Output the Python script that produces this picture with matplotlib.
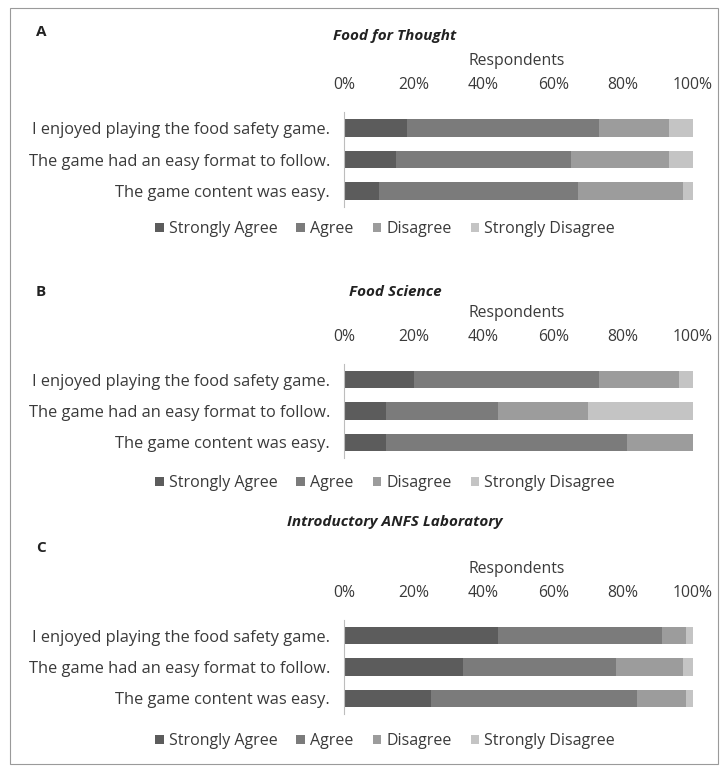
import matplotlib.pyplot as plt
import numpy as np
from matplotlib.patches import Rectangle, Patch

plt.rcParams['font.family'] = ['Open Sans', 'DejaVu Sans']

# Enunciados (de baixo para cima no gráfico)
perguntas = [
    "The game content was easy.",
    "The game had an easy format to follow.",
    "I enjoyed playing the food safety game.",
]
categorias = ["Strongly Agree", "Agree", "Disagree", "Strongly Disagree"]
cores = ["#5c5c5c", "#7b7b7b", "#9c9c9c", "#c4c4c4"]

titulos = ["Food for Thought", "Food Science", "Introductory ANFS Laboratory"]
letras = ["A", "B", "C"]

# Percentuais por categoria, na ordem de 'perguntas'
food_thought_sa = [10, 15, 18]
food_thought_a = [57, 50, 55]
food_thought_d = [30, 28, 20]
food_thought_sd = [3, 7, 7]

food_science_sa = [12, 12, 20]
food_science_a = [69, 32, 53]
food_science_d = [19, 26, 23]
food_science_sd = [0, 30, 4]

anfs_sa = [25, 34, 44]
anfs_a = [59, 44, 47]
anfs_d = [14, 19, 7]
anfs_sd = [2, 3, 2]

paineis = [
    [food_thought_sa, food_thought_a, food_thought_d, food_thought_sd],
    [food_science_sa, food_science_a, food_science_d, food_science_sd],
    [anfs_sa, anfs_a, anfs_d, anfs_sd],
]

W, H = 726, 772
fig = plt.figure(figsize=(W / 100, H / 100), dpi=100)

# moldura externa
fig.patches.append(Rectangle((10 / W, 8 / H), 708 / W, 756 / H, transform=fig.transFigure,
                             fill=False, edgecolor="#9a9a9a", linewidth=0.8))

# (topo do eixo, base do eixo, y da letra, y do título, y da legenda) em pixels
layout = [
    (112, 207, 32, 36, 229),
    (364, 458, 292, 292, 483),
    (620, 714, 548, 522, 741),
]

x0, x1 = 344, 693
for (topo, base, y_letra, y_tit, y_leg), dados, tit, letra in zip(layout, paineis, titulos, letras):
    ax = fig.add_axes([x0 / W, 1 - base / H, (x1 - x0) / W, (base - topo) / H])
    y = np.arange(len(perguntas))
    esquerda = np.zeros(len(perguntas))
    for valores, cor, cat in zip(dados, cores, categorias):
        ax.barh(y, valores, left=esquerda, height=0.55, color=cor, edgecolor="none", label=cat)
        esquerda += np.array(valores)
    ax.set_xlim(0, 100)
    ax.set_ylim(-0.5, 2.5)
    ax.set_yticks(y)
    ax.set_yticklabels(perguntas, fontsize=11.8, color="#3a3a3a")
    ax.set_xticks([0, 20, 40, 60, 80, 100])
    ax.set_xticklabels(["0%", "20%", "40%", "60%", "80%", "100%"], fontsize=11.3, color="#3a3a3a")
    ax.xaxis.tick_top()
    ax.tick_params(axis="both", length=0)
    ax.tick_params(axis="x", pad=14)
    ax.tick_params(axis="y", pad=10)
    for lado in ["top", "right", "bottom"]:
        ax.spines[lado].set_visible(False)
    ax.spines["left"].set_color("#bdbdbd")
    ax.spines["left"].set_linewidth(0.8)

    fig.text(36 / W, 1 - y_letra / H, letra, fontsize=11, fontweight="bold", va="center", color="#222222")
    fig.text(395 / W, 1 - y_tit / H, tit, fontsize=11, fontweight="bold", fontstyle="italic",
             ha="center", va="center", color="#222222")
    fig.text(517 / W, 1 - (topo - 51) / H, "Respondents", fontsize=11.3, ha="center", va="center", color="#3a3a3a")

    handles = [Patch(facecolor=c, edgecolor="none", label=cat) for c, cat in zip(cores, categorias)]
    fig.legend(handles=handles, loc="center", bbox_to_anchor=(385 / W, 1 - y_leg / H), ncol=4,
               frameon=False, fontsize=11.5, handlelength=0.55, handleheight=0.55,
               handletextpad=0.3, columnspacing=1.2, labelcolor="#3a3a3a")

fig.savefig("out.png", dpi=100)
